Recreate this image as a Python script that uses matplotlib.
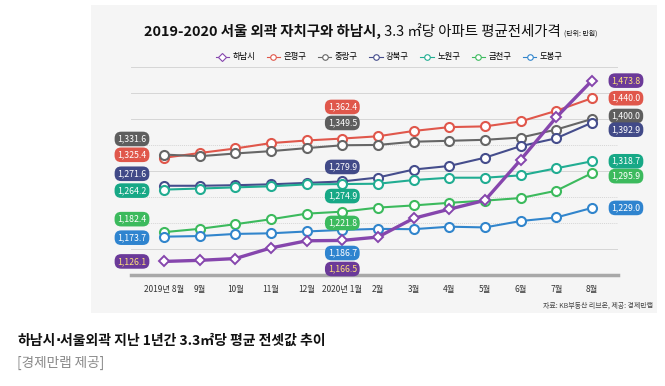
import matplotlib
matplotlib.use('Agg')
import matplotlib.pyplot as plt
from matplotlib.patches import Rectangle
from matplotlib.lines import Line2D

plt.rcParams['font.family'] = ['Noto Sans CJK KR', 'DejaVu Sans']

# 월
months = ['2019년 8월', '9월', '10월', '11월', '12월', '2020년 1월', '2월',
          '3월', '4월', '5월', '6월', '7월', '8월']

# 3.3㎡당 평균 전세가격 (만원)
hanam = [1126.1, 1128.2, 1131.6, 1152.1, 1165.8, 1166.5, 1173.0, 1209.0, 1226.6, 1243.6, 1321.5, 1403.2, 1473.8]
eunpyeong = [1325.4, 1334.6, 1343.3, 1353.7, 1358.7, 1362.4, 1366.8, 1377.0, 1384.4, 1385.8, 1395.3, 1415.8, 1440.0]
jungnang = [1331.6, 1328.4, 1333.7, 1338.2, 1344.0, 1349.5, 1350.1, 1356.3, 1358.1, 1360.0, 1364.3, 1379.7, 1400.0]
gangbuk = [1271.6, 1271.6, 1272.7, 1274.4, 1277.1, 1279.9, 1287.5, 1302.8, 1309.7, 1325.6, 1347.8, 1363.0, 1392.9]
nowon = [1264.2, 1266.3, 1268.5, 1270.6, 1274.2, 1274.9, 1275.5, 1282.6, 1287.1, 1287.1, 1291.6, 1305.2, 1318.7]
geumcheon = [1182.4, 1188.8, 1197.7, 1207.2, 1218.0, 1221.8, 1229.6, 1233.8, 1238.8, 1243.0, 1248.0, 1262.1, 1295.9]
dobong = [1173.7, 1174.9, 1179.0, 1180.2, 1183.7, 1186.7, 1188.7, 1188.1, 1192.9, 1191.5, 1203.8, 1210.6, 1229.0]

names = ['하남시', '은평구', '중랑구', '강북구', '노원구', '금천구', '도봉구']
series = [hanam, eunpyeong, jungnang, gangbuk, nowon, geumcheon, dobong]
colors = ['#8646ad', '#e0574b', '#666666', '#454d8c', '#21ad92', '#3cba5d', '#3185cc']
box_colors = ['#6b3a99', '#e0574b', '#5e5e5e', '#414a88', '#17a886', '#3cba5d', '#2f84cf']

# 라벨 위치 보정 (픽셀, 위쪽 +) : 처음 / 2020년 1월 / 마지막
off_first = [0, 3, 15.6, 12, -1, 13, -1]
off_mid = [-28.6, 31.6, 22.3, 14.5, -12, -11.3, -23.1]
off_last = [0, 0, 3, -7, 0, -3, 0]

fig = plt.figure(figsize=(6.65, 3.86), dpi=100)
fig.patch.set_facecolor('white')
# 회색 패널
fig.patches.append(Rectangle((91 / 665, 1 - 313 / 386), (657 - 91) / 665, (313 - 5) / 386,
                             transform=fig.transFigure, fc='#f5f5f5', ec='none', zorder=-10))

ax = fig.add_axes([131 / 665, 1 - 275 / 386, (618 - 131) / 665, (275 - 67) / 386])
ax.set_facecolor('none')
ax.set_zorder(1)
x = list(range(len(months)))

for yv in range(1150, 1501, 50):
    ls = (0, (1, 1)) if yv in (1200, 1250, 1350) else '-'
    ax.axhline(yv, color='#d6d6d6', lw=0.7, ls=ls, zorder=1)
ax.axhline(1100, color='#a8a8a8', lw=2.5, zorder=2, clip_on=False)

for i, (name, vals) in enumerate(zip(names, series)):
    if i == 0:
        ax.plot(x, vals, color=colors[i], lw=2.4, marker='D', ms=5.5, mfc='white',
                mec=colors[i], mew=1.4, zorder=10, clip_on=False)
    else:
        ax.plot(x, vals, color=colors[i], lw=1.5, marker='o', ms=6.5, mfc='white',
                mec=colors[i], mew=1.5, zorder=5 + i * 0.1, clip_on=False)

def label(xi, val, dx, dy, i):
    tc = '#ffe27a' if i == 0 else 'white'
    ax.annotate(f'{val:,.1f}', (xi, val), xytext=(dx, dy), textcoords='offset pixels',
                ha='center', va='center', fontsize=6.3, color=tc, zorder=20,
                annotation_clip=False,
                bbox=dict(boxstyle='round,pad=0.32,rounding_size=0.75', fc=box_colors[i], ec='none'))

for i, vals in enumerate(series):
    label(0, vals[0], -32, off_first[i], i)
    label(5, vals[5], 0, off_mid[i], i)
    label(12, vals[-1], 34, off_last[i], i)

ax.set_xlim(-0.925, 12.73)
ax.set_ylim(1100, 1500)
ax.set_xticks(x)
ax.set_xticklabels(months, fontsize=6, color='#333333')
ax.set_yticks([])
ax.tick_params(axis='x', length=0, pad=7)
for s in ax.spines.values():
    s.set_visible(False)

fig.canvas.draw()
r = fig.canvas.get_renderer()

def run_text(parts, x0, y, center=False):
    ts = []
    for s, w, fs, c, fam in parts:
        kw = {'family': fam} if fam else {}
        ts.append(fig.text(0, y, s, fontsize=fs, fontweight=w, color=c, va='baseline', ha='left', **kw))
    ws = [t.get_window_extent(r).width for t in ts]
    xp = x0 - sum(ws) / 2 if center else x0
    for t, wd in zip(ts, ws):
        t.set_x(xp / 665)
        xp += wd

# 제목 (굵게 + 보통 + 단위)
run_text([('2019-2020 서울 외곽 자치구와 하남시,', 'bold', 10.4, '#111111', None),
          (' 3.3 ㎡당 아파트 평균전세가격', 'normal', 10.4, '#111111', None),
          ('  (단위: 만원)', 'normal', 5, '#111111', None)], 371, 1 - 36 / 386, center=True)

# 범례
handles = []
for i, name in enumerate(names):
    handles.append(Line2D([0], [0], color=colors[i], lw=0.8, marker='D' if i == 0 else 'o',
                          ms=4, mfc='white', mec=colors[i], mew=0.8))
fig.legend(handles, names, loc='center', bbox_to_anchor=(389 / 665, 1 - 57 / 386), ncol=7,
           frameon=False, fontsize=6, handlelength=1.6, handletextpad=0.4, columnspacing=1.4)

fig.text(653 / 665, 1 - 306 / 386, '자료: KB부동산 리브온, 제공: 경제만랩', fontsize=5,
         color='#444444', ha='right', va='center')

run_text([('하남시', 'bold', 10, '#111111', None),
          ('·', 'bold', 10, '#111111', 'DejaVu Sans'),
          ('서울외곽 지난 1년간 3.3㎡당 평균 전셋값 추이', 'bold', 10, '#111111', None)],
         17, 1 - 345 / 386)
fig.text(17 / 665, 1 - 363 / 386, '[경제만랩 제공]', fontsize=9.8, color='#888888',
         ha='left', va='center')

fig.savefig('out.png', dpi=100)
